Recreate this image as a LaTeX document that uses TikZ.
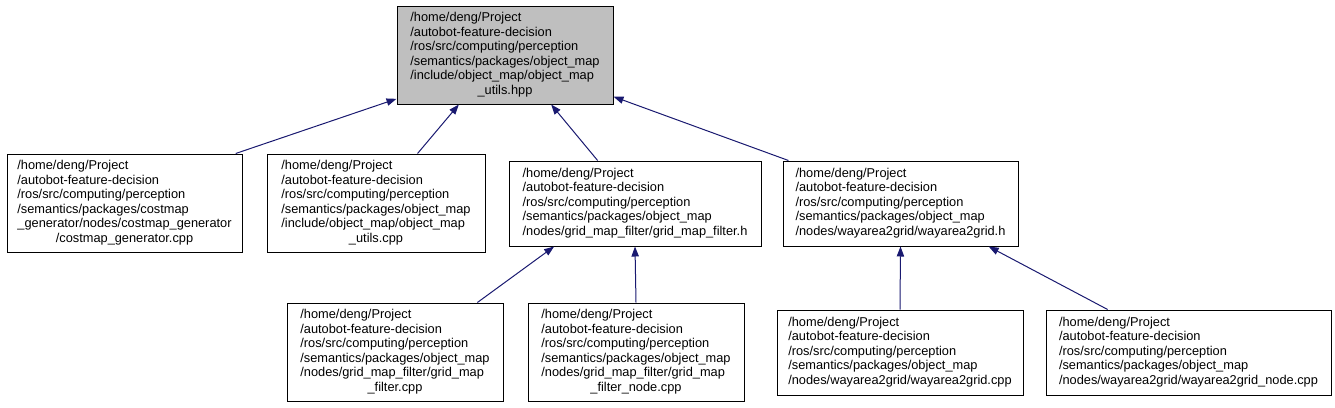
\documentclass[tikz,border=0pt]{standalone}
\usepackage{fontspec}
\setmainfont{Liberation Sans}
\usepackage{tikz}
\usetikzlibrary{arrows.meta}
\definecolor{edgeBlue}{HTML}{191970}
\definecolor{rootGrey}{HTML}{BFBFBF}
\newcommand{\lastln}[1]{\multicolumn{1}{@{}c@{}}{#1}}

\begin{document}
\begin{tikzpicture}[x=0.75pt, y=-0.75pt,
        font=\fontsize{9.6}{10.9}\selectfont,
        fbox/.style={draw=black, fill=white, line width=0.75pt, inner sep=0pt,
            align=left},
        tall/.style={fbox, minimum height=73.5pt},
        low/.style={fbox, minimum height=63.75pt},
        incl/.style={-{Triangle[length=7.5pt, width=5.5pt]}, edgeBlue, line width=0.75pt}]
        \useasboundingbox (0,0) rectangle (1335,407);
        % the file itself
        \node[tall, fill=rootGrey, minimum width=162pt] (root) at (505,55)
            {\begin{tabular}{@{}l@{}}/home/deng/Project\\/autobot-feature-decision\\/ros/src/computing/perception\\/semantics/packages/object\_map\\/include/object\_map/object\_map\\\lastln{\_utils.hpp}\end{tabular}};
        % direct includers
        \node[tall, minimum width=176.25pt] (costgen) at (124.5,203)
            {\begin{tabular}{@{}l@{}}/home/deng/Project\\/autobot-feature-decision\\/ros/src/computing/perception\\/semantics/packages/costmap\\\_generator/nodes/costmap\_generator\\\lastln{/costmap\_generator.cpp}\end{tabular}};
        \node[tall, minimum width=163.5pt] (utilscpp) at (376,203)
            {\begin{tabular}{@{}l@{}}/home/deng/Project\\/autobot-feature-decision\\/ros/src/computing/perception\\/semantics/packages/object\_map\\/include/object\_map/object\_map\\\lastln{\_utils.cpp}\end{tabular}};
        \node[low, minimum width=189pt] (gridh) at (635,203.5)
            {\begin{tabular}{@{}l@{}}/home/deng/Project\\/autobot-feature-decision\\/ros/src/computing/perception\\/semantics/packages/object\_map\\/nodes/grid\_map\_filter/grid\_map\_filter.h\end{tabular}};
        \node[low, minimum width=176.25pt] (wayh) at (900.5,203.5)
            {\begin{tabular}{@{}l@{}}/home/deng/Project\\/autobot-feature-decision\\/ros/src/computing/perception\\/semantics/packages/object\_map\\/nodes/wayarea2grid/wayarea2grid.h\end{tabular}};
        % second level
        \node[tall, minimum width=162pt] (gridcpp) at (395,352)
            {\begin{tabular}{@{}l@{}}/home/deng/Project\\/autobot-feature-decision\\/ros/src/computing/perception\\/semantics/packages/object\_map\\/nodes/grid\_map\_filter/grid\_map\\\lastln{\_filter.cpp}\end{tabular}};
        \node[tall, minimum width=162pt] (gridnode) at (636,352)
            {\begin{tabular}{@{}l@{}}/home/deng/Project\\/autobot-feature-decision\\/ros/src/computing/perception\\/semantics/packages/object\_map\\/nodes/grid\_map\_filter/grid\_map\\\lastln{\_filter\_node.cpp}\end{tabular}};
        \node[low, minimum width=184.5pt] (waycpp) at (900,352.5)
            {\begin{tabular}{@{}l@{}}/home/deng/Project\\/autobot-feature-decision\\/ros/src/computing/perception\\/semantics/packages/object\_map\\/nodes/wayarea2grid/wayarea2grid.cpp\end{tabular}};
        \node[low, minimum width=213.75pt] (waynode) at (1188.5,352.5)
            {\begin{tabular}{@{}l@{}}/home/deng/Project\\/autobot-feature-decision\\/ros/src/computing/perception\\/semantics/packages/object\_map\\/nodes/wayarea2grid/wayarea2grid\_node.cpp\end{tabular}};
        % include edges
        \draw[incl] (costgen.24) -- (root.202);
        \draw[incl] (utilscpp.50) -- (root.227);
        \draw[incl] (gridh.131) -- (root.313);
        \draw[incl] (wayh.159) -- (root.339);
        \draw[incl] (gridcpp.31) -- (gridh.208);
        \draw[incl] (gridnode.north) -- (gridh.south);
        \draw[incl] (waycpp.north) -- (wayh.south);
        \draw[incl] (waynode.152) -- (wayh.334);
    \end{tikzpicture}
\end{document}
